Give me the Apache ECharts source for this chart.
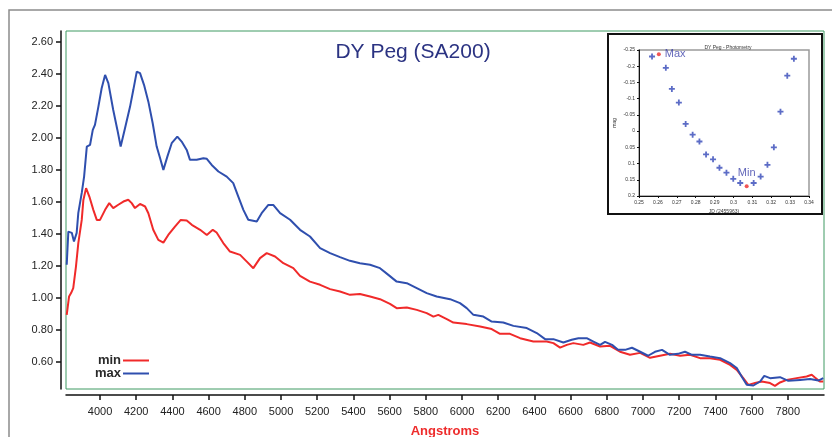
<!DOCTYPE html>
<html>
<head>
<meta charset="utf-8">
<script src="https://cdn.jsdelivr.net/npm/echarts@6/dist/echarts.min.js"></script>
<style>
  html, body { margin: 0; padding: 0; background: #ffffff; }
  #chart { width: 832px; height: 437px; }
</style>
</head>
<body>
<div id="chart"></div>
<script>
// Spectrum of DY Peg (SA200): envelope at maximum and minimum light
const maxWave = [3816,3825,3834,3844,3856,3871,3880,3899,3912,3927,3945,3960,3972,3991,4009,4028,4046,4073,4096,4114,4138,4166,4184,4203,4221,4243,4267,4291,4313,4332,4350,4372,4396,4427,4451,4479,4497,4534,4571,4590,4617,4654,4700,4736,4764,4792,4819,4866,4893,4930,4957,4995,5050,5105,5160,5216,5271,5326,5381,5436,5492,5547,5593,5639,5695,5750,5805,5860,5934,5989,6026,6063,6118,6164,6228,6284,6358,6413,6459,6505,6560,6606,6643,6689,6726,6763,6790,6829,6862,6901,6939,6984,7028,7066,7105,7149,7193,7232,7271,7315,7370,7426,7481,7518,7545,7573,7610,7647,7670,7702,7757,7803,7868,7923,7969,7996];
const maxFlux = [1.207,1.415,1.426,1.407,1.353,1.407,1.532,1.657,1.759,1.947,1.958,2.051,2.083,2.197,2.312,2.395,2.344,2.176,2.051,1.947,2.062,2.197,2.302,2.416,2.406,2.333,2.228,2.093,1.947,1.874,1.801,1.884,1.968,2.009,1.978,1.926,1.864,1.864,1.874,1.870,1.832,1.791,1.759,1.718,1.634,1.551,1.489,1.478,1.530,1.582,1.582,1.530,1.489,1.426,1.384,1.311,1.280,1.255,1.232,1.217,1.207,1.186,1.144,1.102,1.092,1.061,1.030,1.009,0.992,0.967,0.936,0.894,0.883,0.852,0.846,0.825,0.811,0.780,0.742,0.742,0.721,0.738,0.748,0.748,0.727,0.706,0.725,0.706,0.675,0.675,0.688,0.663,0.638,0.663,0.675,0.644,0.650,0.663,0.644,0.644,0.633,0.623,0.592,0.561,0.508,0.456,0.452,0.477,0.512,0.498,0.504,0.481,0.487,0.492,0.483,0.498];

const minWave = [3816,3829,3840,3852,3867,3880,3899,3908,3923,3941,3963,3982,4000,4028,4051,4073,4101,4129,4156,4175,4193,4221,4249,4267,4294,4322,4350,4377,4414,4446,4479,4507,4553,4590,4623,4644,4681,4718,4774,4811,4847,4884,4921,4967,5013,5068,5105,5160,5216,5271,5326,5381,5436,5492,5547,5602,5639,5695,5750,5805,5842,5869,5916,5952,6026,6100,6164,6210,6265,6321,6394,6468,6505,6542,6579,6615,6670,6707,6763,6818,6873,6928,6984,7039,7094,7149,7205,7260,7315,7370,7426,7481,7518,7554,7582,7619,7656,7702,7729,7757,7794,7849,7904,7932,7950,7977,7996];
const minFlux = [0.894,1.009,1.030,1.061,1.196,1.343,1.488,1.613,1.687,1.634,1.551,1.488,1.488,1.551,1.593,1.562,1.583,1.603,1.614,1.593,1.562,1.588,1.572,1.530,1.426,1.363,1.346,1.394,1.446,1.488,1.484,1.457,1.426,1.394,1.426,1.409,1.343,1.290,1.269,1.227,1.186,1.249,1.280,1.259,1.217,1.186,1.138,1.102,1.082,1.055,1.040,1.019,1.025,1.009,0.992,0.963,0.936,0.940,0.925,0.905,0.883,0.894,0.867,0.846,0.836,0.821,0.805,0.775,0.775,0.748,0.727,0.727,0.717,0.689,0.706,0.717,0.706,0.721,0.696,0.700,0.663,0.644,0.656,0.625,0.638,0.650,0.638,0.644,0.623,0.623,0.613,0.581,0.550,0.498,0.456,0.467,0.477,0.467,0.450,0.471,0.487,0.498,0.508,0.519,0.502,0.477,0.477];

const fluxTicks = [0.6, 0.8, 1.0, 1.2, 1.4, 1.6, 1.8, 2.0, 2.2, 2.4, 2.6];
const waveTicks = [4000,4200,4400,4600,4800,5000,5200,5400,5600,5800,6000,6200,6400,6600,6800,7000,7200,7400,7600,7800];

// Photometry light curve (JD - 2455963)
const jdTimes = [0.2569,0.2642,0.2674,0.2711,0.2747,0.2784,0.2820,0.2855,0.2892,0.2926,0.2963,0.2999,0.3036,0.3107,0.3144,0.3180,0.3214,0.3249,0.3285,0.3320];
const jdMags  = [-0.230,-0.195,-0.130,-0.088,-0.022,0.011,0.032,0.072,0.087,0.113,0.128,0.147,0.160,0.160,0.140,0.104,0.050,-0.060,-0.171,-0.223];
const extremeTimes = [0.2605, 0.3070];
const extremeMags = [-0.237, 0.170];
const extremeNames = ['Max', 'Min'];
const jdTicks = [0.25,0.26,0.27,0.28,0.29,0.30,0.31,0.32,0.33,0.34];
const magTicks = [-0.25,-0.2,-0.15,-0.1,-0.05,0,0.05,0.1,0.15,0.2];

const FONT = '"Liberation Sans", Arial, sans-serif';
const pairs = (xs, ys) => xs.map((x, i) => [x, ys[i]]);
const plusPath = 'path://M3.5,0H6.5V3.5H10V6.5H6.5V10H3.5V6.5H0V3.5H3.5Z';

const chart = echarts.init(document.getElementById('chart'), null, { renderer: 'canvas' });

chart.setOption({
  backgroundColor: '#ffffff',
  animation: false,
  title: [{
    text: 'DY Peg (SA200)',
    left: 408, top: 37, textAlign: 'center',
    textStyle: { fontFamily: FONT, fontSize: 21, fontWeight: 'normal', color: '#2b3382' }
  }, {
    text: 'DY Peg - Photometry',
    left: 723, top: 40, textAlign: 'center',
    textStyle: { fontFamily: FONT, fontSize: 5, fontWeight: 'normal', color: '#333' }
  }],
  legend: {
    data: ['min', 'max'],
    orient: 'vertical',
    left: 90, top: 349,
    align: 'right',
    itemWidth: 26, itemHeight: 2,
    itemGap: 0,
    icon: 'rect',
    textStyle: { fontFamily: FONT, fontSize: 13, fontWeight: 'bold', lineHeight: 11, color: '#2a2a2a', padding: [0, -3, 0, 0] }
  },
  grid: [{
    left: 66, top: 31, right: 8, bottom: 48,
    outerBoundsMode: 'none', containLabel: false,
    show: true, borderColor: '#3f9a63', borderWidth: 1, backgroundColor: '#ffffff'
  }, {
    left: 639, top: 50, right: 23, bottom: 241,
    outerBoundsMode: 'none', containLabel: false,
    show: true, borderColor: '#9a9a9a', borderWidth: 1.5, backgroundColor: '#ffffff'
  }],
  xAxis: [{
    gridIndex: 0, type: 'value', min: 3812, max: 8000, offset: 6,
    name: 'Angstroms', nameLocation: 'middle', nameGap: 30,
    nameTextStyle: { fontFamily: FONT, fontSize: 13, fontWeight: 'bold', color: '#ee2b2b' },
    axisLine: { show: true, onZero: false, lineStyle: { color: '#111', width: 1.5 } },
    axisTick: { show: true, length: 5, customValues: waveTicks, lineStyle: { color: '#111', width: 1.5 } },
    axisLabel: { customValues: waveTicks, margin: 11, fontFamily: FONT, fontSize: 11, color: '#222', formatter: v => String(v) },
    splitLine: { show: false }
  }, {
    gridIndex: 1, type: 'value', min: 0.25, max: 0.34,
    name: 'JD (2455963)', nameLocation: 'middle', nameGap: 13,
    nameTextStyle: { fontFamily: FONT, fontSize: 5, color: '#333' },
    axisLine: { show: true, onZero: false, lineStyle: { color: '#111', width: 1 } },
    axisTick: { show: true, length: 2, customValues: jdTicks, lineStyle: { color: '#111' } },
    axisLabel: { customValues: jdTicks, margin: 4, fontFamily: FONT, fontSize: 5, color: '#333', formatter: v => String(+v.toFixed(2)) },
    splitLine: { show: false }
  }],
  yAxis: [{
    gridIndex: 0, type: 'value', min: 0.43, max: 2.67, offset: 5,
    axisLine: { show: true, onZero: false, lineStyle: { color: '#111', width: 1.5 } },
    axisTick: { show: true, length: 5, customValues: fluxTicks, lineStyle: { color: '#111', width: 1.5 } },
    axisLabel: { customValues: fluxTicks, margin: 8, fontFamily: FONT, fontSize: 11, color: '#222', formatter: v => v.toFixed(2) },
    splitLine: { show: false }
  }, {
    gridIndex: 1, type: 'value', min: -0.25, max: 0.2, inverse: true,
    name: 'mag', nameLocation: 'middle', nameGap: 22, nameRotate: 90,
    nameTextStyle: { fontFamily: FONT, fontSize: 5, color: '#333' },
    axisLine: { show: true, onZero: false, lineStyle: { color: '#111', width: 1 } },
    axisTick: { show: true, length: 2, customValues: magTicks, lineStyle: { color: '#111' } },
    axisLabel: { customValues: magTicks, margin: 4, fontFamily: FONT, fontSize: 5, color: '#333', formatter: v => String(+v.toFixed(2)) },
    splitLine: { show: false }
  }],
  series: [{
    name: 'min', type: 'line', xAxisIndex: 0, yAxisIndex: 0,
    data: pairs(minWave, minFlux), showSymbol: false, symbol: 'none',
    itemStyle: { color: '#f02a2a' },
    lineStyle: { color: '#f02a2a', width: 2 }, z: 3
  }, {
    name: 'max', type: 'line', xAxisIndex: 0, yAxisIndex: 0,
    data: pairs(maxWave, maxFlux), showSymbol: false, symbol: 'none',
    itemStyle: { color: '#2f4fae' },
    lineStyle: { color: '#2f4fae', width: 2 }, z: 4
  }, {
    name: 'photometry', type: 'scatter', xAxisIndex: 1, yAxisIndex: 1,
    data: pairs(jdTimes, jdMags), symbol: plusPath, symbolSize: 6,
    itemStyle: { color: '#3347b8' }
  }, {
    name: 'extremes', type: 'scatter', xAxisIndex: 1, yAxisIndex: 1,
    data: extremeTimes.map((t, i) => ({
      value: [t, extremeMags[i]],
      label: {
        show: true, formatter: extremeNames[i],
        position: i === 0 ? 'right' : 'top', distance: i === 0 ? 4 : 6
      }
    })),
    symbol: 'circle', symbolSize: 4,
    itemStyle: { color: '#ee2b2b' },
    label: { fontFamily: FONT, fontSize: 11, color: '#3a3fa8' }
  }],
  graphic: [{
    type: 'polyline', silent: true,
    shape: { points: [[9, 437], [9, 10], [832, 10]] },
    style: { stroke: '#8c8c8c', lineWidth: 1.5, fill: null }
  }, {
    type: 'rect', silent: true, z: 10,
    shape: { x: 608, y: 34, width: 214, height: 180 },
    style: { stroke: '#111', lineWidth: 2, fill: null }
  }]
});
</script>
</body>
</html>
